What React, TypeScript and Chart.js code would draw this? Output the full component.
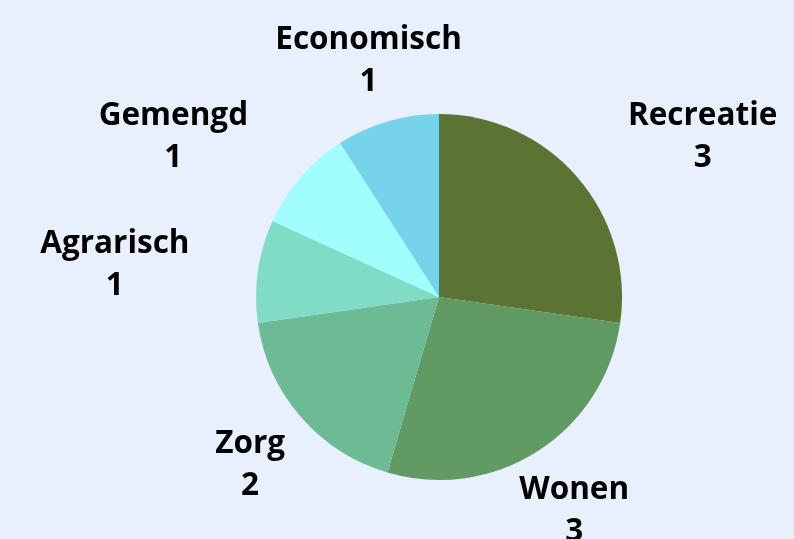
import React, { useEffect, useRef } from "react";
import { Chart, registerables } from "chart.js";

Chart.register(...registerables);

const categories = ["Recreatie", "Wonen", "Zorg", "Agrarisch", "Gemengd", "Economisch"];
const values = [3, 3, 2, 1, 1, 1];
const colors = ["#5b7434", "#629a63", "#6dbb94", "#81dcc7", "#a0fffd", "#77d3e9"];

const FONT = "bold 31.5px 'Open Sans'";
const LINE_H = 42;
const LABEL_GAP = 67;

const outsideLabels = {
  id: "outsideLabels",
  afterDatasetsDraw(chart: any) {
    const ctx = chart.ctx;
    const meta = chart.getDatasetMeta(0);
    ctx.save();
    ctx.font = FONT;
    ctx.fillStyle = "#000";
    ctx.textBaseline = "alphabetic";
    ctx.textAlign = "center";
    meta.data.forEach((arc: any, i: number) => {
      const { x, y, startAngle, endAngle, outerRadius } = arc.getProps(
        ["x", "y", "startAngle", "endAngle", "outerRadius"],
        true
      );
      const mid = (startAngle + endAngle) / 2;
      const cos = Math.cos(mid);
      const sin = Math.sin(mid);
      const d = outerRadius + LABEL_GAP;
      const ax = x + cos * d;
      const ay = y + sin * d;
      const lines = [categories[i], String(values[i])];
      const w = Math.max(...lines.map((l) => ctx.measureText(l).width));
      const h = lines.length * LINE_H;
      // centered box; shift sideways if it would overlap the pie
      let left = ax - w / 2;
      const top = ay - h / 2;
      const overlaps = (lx: number) => {
        const cx = Math.max(lx, Math.min(x, lx + w));
        const cy = Math.max(top, Math.min(y, top + h));
        return Math.hypot(cx - x, cy - y) < outerRadius;
      };
      if (overlaps(left)) {
        left = cos >= 0 ? ax : ax - w - 2;
      }
      const cxText = left + w / 2;
      lines.forEach((l, k) => {
        ctx.fillText(l, cxText, ay - 8 + k * LINE_H);
      });
    });
    ctx.restore();
  },
};

export default function App() {
  const ref = useRef<HTMLCanvasElement | null>(null);
  useEffect(() => {
    if (!ref.current) return;
    const chart = new Chart(ref.current, {
      type: "pie",
      data: {
        labels: categories,
        datasets: [
          {
            data: values,
            backgroundColor: colors,
            borderWidth: 0,
          },
        ],
      },
      options: {
        animation: false,
        responsive: false,
        maintainAspectRatio: false,
        layout: { padding: { top: 114, bottom: 59, left: 256, right: 172 } },
        plugins: {
          legend: { display: false },
          tooltip: { enabled: false },
        },
      },
      plugins: [outsideLabels],
    });
    return () => chart.destroy();
  }, []);
  return (
    <div
      style={{
        position: "absolute",
        left: 0,
        top: 0,
        width: 794,
        height: 539,
        background: "#e8f0fe",
        overflow: "hidden",
      }}
    >
      <canvas ref={ref} width={794} height={539} style={{ display: "block" }} />
    </div>
  );
}
